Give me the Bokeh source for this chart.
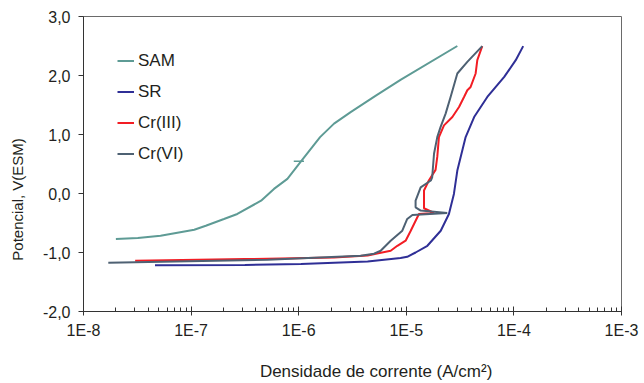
from bokeh.plotting import figure
from bokeh.models import FixedTicker, CustomJSTickFormatter, Range1d, Legend, LegendItem
from bokeh.embed import file_html
from bokeh.resources import INLINE

# ---- data (current density A/cm2, potential V vs ESM) ----
sam_i = [2.0e-8, 3.2e-8, 5.2e-8, 1.07e-7, 1.37e-7, 2.02e-7, 2.69e-7, 4.47e-7, 5.89e-7,
         7.85e-7, 1.05e-6, 1.58e-6, 2.13e-6, 3.04e-6, 5.21e-6, 8.91e-6, 2.98e-5]
sam_v = [-0.772, -0.755, -0.716, -0.614, -0.546, -0.432, -0.347, -0.121, 0.078,
         0.248, 0.543, 0.956, 1.184, 1.38, 1.66, 1.93, 2.50]
# small stray dash on the SAM curve
sam_dash_i = [9.0e-7, 1.12e-6]
sam_dash_v = [0.548, 0.548]

sr_i = [4.62e-8, 3.16e-7, 1.05e-6, 4.37e-6, 8.85e-6, 1.02e-5, 1.22e-5, 1.57e-5, 2.09e-5,
        2.49e-5, 2.77e-5, 2.98e-5, 3.56e-5, 4.27e-5, 5.66e-5, 8.13e-5, 1.04e-4, 1.22e-4]
sr_v = [-1.214, -1.21, -1.197, -1.153, -1.095, -1.073, -1.0, -0.886, -0.631,
        -0.347, -0.007, 0.389, 0.956, 1.296, 1.636, 1.976, 2.26, 2.498]

cr3_i = [3.02e-8, 3.16e-7, 2.13e-6, 4.37e-6, 7.16e-6, 8.26e-6, 9.86e-6, 1.10e-5, 1.31e-5,
         1.81e-5, 1.46e-5, 1.46e-5, 1.62e-5, 1.87e-5, 1.94e-5, 2.01e-5, 2.24e-5, 2.68e-5,
         3.09e-5, 3.44e-5, 3.69e-5, 3.96e-5, 4.41e-5, 4.57e-5, 5.08e-5]
cr3_v = [-1.141, -1.112, -1.085, -1.05, -0.971, -0.886, -0.80, -0.631, -0.347,
         -0.33, -0.25, 0.05, 0.22, 0.40, 0.62, 0.956, 1.155, 1.296,
         1.466, 1.636, 1.75, 1.806, 2.034, 2.26, 2.498]

cr6_i = [1.70e-8, 5.13e-7, 3.77e-6, 5.01e-6, 5.78e-6, 7.16e-6, 9.18e-6, 1.02e-5, 1.14e-5,
         2.40e-5, 1.36e-5, 1.22e-5, 1.22e-5, 1.36e-5, 1.69e-5, 1.74e-5, 1.81e-5, 1.94e-5,
         2.08e-5, 2.32e-5, 2.58e-5, 2.98e-5, 3.69e-5, 5.08e-5]
cr6_v = [-1.175, -1.124, -1.056, -1.02, -0.971, -0.80, -0.631, -0.432, -0.364,
         -0.33, -0.29, -0.235, -0.12, 0.105, 0.22, 0.275, 0.673, 0.956,
         1.125, 1.354, 1.636, 2.034, 2.23, 2.498]

series_names = ["SAM", "SR", "Cr(III)", "Cr(VI)"]
x_ticks = [1e-8, 1e-7, 1e-6, 1e-5, 1e-4, 1e-3]
y_ticks = [-2.0, -1.0, 0.0, 1.0, 2.0, 3.0]
x_title = "Densidade de corrente (A/cm²)"
y_title = "Potencial, V(ESM)"

colors = ["#5e9b95", "#2f2f96", "#f21d24", "#4e6173"]
FONT = "Liberation Sans"
TXT = "#231f20"
NB = "\u00a0"

p = figure(width=644, height=383, x_axis_type="log", output_backend="svg",
           toolbar_location=None, x_range=Range1d(1e-8, 1e-3), y_range=Range1d(-2, 3),
           min_border_left=83, min_border_right=23, min_border_top=16, min_border_bottom=72)
p.xgrid.visible = False
p.ygrid.visible = False
p.outline_line_color = "#6a6a6a"
p.outline_line_width = 1
p.background_fill_color = "white"
p.border_fill_color = "white"

renderers = []
for (xi, vi), c in zip([(sam_i, sam_v), (sr_i, sr_v), (cr3_i, cr3_v), (cr6_i, cr6_v)], colors):
    r = p.line(xi, vi, line_color=c, line_width=2)
    renderers.append(r)
p.line(sam_dash_i, sam_dash_v, line_color=colors[0], line_width=1.5)

minor = []
for d in range(-8, -3):
    for m in range(2, 10):
        minor.append(m * 10.0 ** d)

xa = p.xaxis[0]
xa.ticker = FixedTicker(ticks=x_ticks, minor_ticks=minor)
xa.formatter = CustomJSTickFormatter(code="return '1E' + Math.round(Math.log10(tick));")
xa.major_tick_in = 5
xa.major_tick_out = 4
xa.minor_tick_in = 4
xa.minor_tick_out = 0
xa.axis_line_color = "#333333"
xa.major_tick_line_color = "#333333"
xa.minor_tick_line_color = "#333333"
xa.major_label_text_font = FONT
xa.major_label_text_font_size = "16px"
xa.major_label_text_color = TXT
xa.major_label_standoff = 6
# leading no-break spaces shift the title right of the frame centre, as in the original
xa.axis_label = NB * 10 + x_title
xa.axis_label_text_font = FONT
xa.axis_label_text_font_size = "17px"
xa.axis_label_text_font_style = "normal"
xa.axis_label_text_color = TXT
xa.axis_label_standoff = 20

ya = p.yaxis[0]
ya.ticker = FixedTicker(ticks=y_ticks, minor_ticks=[])
ya.formatter = CustomJSTickFormatter(code="return tick.toFixed(1).replace('.', ',');")
ya.major_tick_in = 0
ya.major_tick_out = 5
ya.minor_tick_in = 0
ya.minor_tick_out = 0
ya.axis_line_color = "#333333"
ya.major_tick_line_color = "#333333"
ya.major_label_text_font = FONT
ya.major_label_text_font_size = "16px"
ya.major_label_text_color = TXT
ya.major_label_standoff = 8
# trailing no-break spaces shift the title below the frame centre, as in the original
ya.axis_label = y_title + NB * 17
ya.axis_label_text_font = FONT
ya.axis_label_text_font_size = "15px"
ya.axis_label_text_font_style = "normal"
ya.axis_label_text_color = TXT
ya.axis_label_standoff = 14

legend = Legend(items=[LegendItem(label=n, renderers=[r]) for n, r in zip(series_names, renderers)],
                location=(34, 147))
legend.border_line_color = None
legend.background_fill_alpha = 0
legend.padding = 0
legend.margin = 0
legend.spacing = 10
legend.label_height = 21
legend.glyph_height = 21
legend.glyph_width = 17
legend.label_standoff = 4
legend.label_text_font = FONT
legend.label_text_font_size = "17px"
legend.label_text_color = TXT
p.add_layout(legend, "center")

open("out.html", "w").write(file_html(p, INLINE))
